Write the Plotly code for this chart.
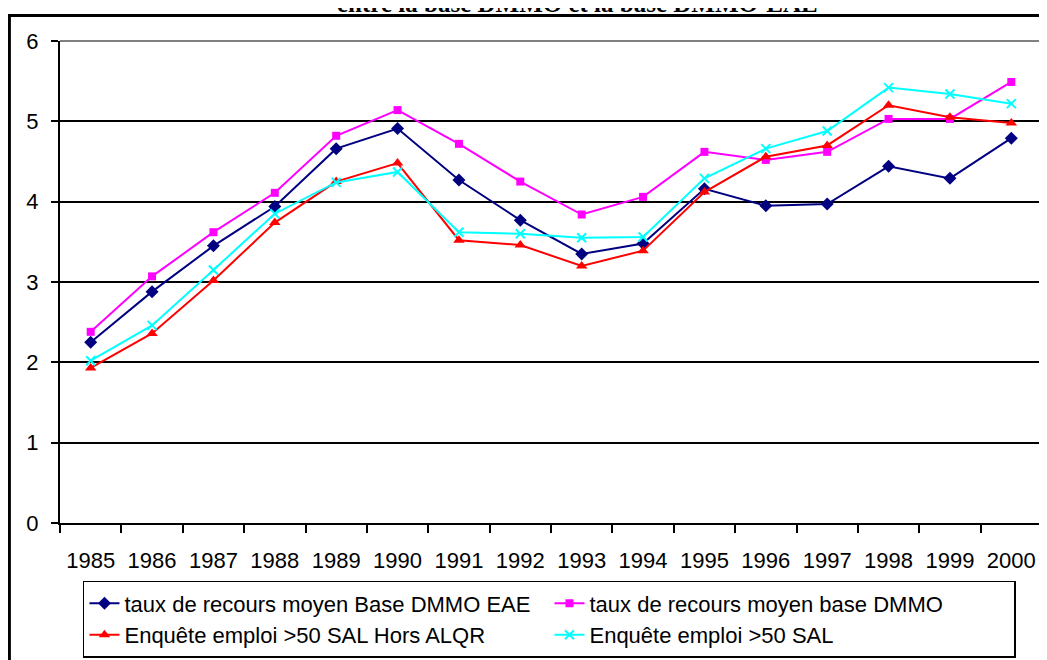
import plotly.graph_objects as go

# Years on the x axis
years = [str(y) for y in range(1985, 2001)]

# Series values
dmmo_eae = [2.25, 2.88, 3.45, 3.94, 4.66, 4.91, 4.27, 3.77, 3.35, 3.48, 4.16, 3.95, 3.97, 4.44, 4.29, 4.79]
dmmo = [2.38, 3.07, 3.62, 4.11, 4.82, 5.14, 4.72, 4.25, 3.84, 4.06, 4.62, 4.52, 4.62, 5.03, 5.03, 5.49]
ee_hors_alqr = [1.93, 2.36, 3.02, 3.74, 4.25, 4.48, 3.52, 3.46, 3.20, 3.39, 4.12, 4.56, 4.70, 5.20, 5.05, 4.98]
ee_50sal = [2.02, 2.46, 3.15, 3.85, 4.24, 4.37, 3.62, 3.60, 3.55, 3.56, 4.29, 4.66, 4.88, 5.42, 5.34, 5.22]

series = [
    ("taux de recours moyen Base DMMO EAE", dmmo_eae, "#000080", "diamond", 10),
    ("taux de recours moyen base DMMO", dmmo, "#FF00FF", "square", 8),
    ("Enquête emploi >50 SAL Hors ALQR", ee_hors_alqr, "#FF0000", "triangle-up", 10),
    ("Enquête emploi >50 SAL", ee_50sal, "#00FFFF", "x-thin", 9),
]

fig = go.Figure()
for name, vals, color, sym, size in series:
    fig.add_trace(go.Scatter(
        x=years, y=vals, name=name, mode="lines+markers",
        line=dict(color=color, width=2),
        marker=dict(symbol=sym, size=size, color=color,
                    line=dict(color=color, width=2 if sym == "x-thin" else 0)),
    ))

font = "Arial, Liberation Sans, sans-serif"

# the page body adds an 8px offset, so margins are shifted to compensate
fig.update_layout(
    width=1047, height=660,
    margin=dict(l=52, r=13, t=33, b=145, autoexpand=False),
    paper_bgcolor="white", plot_bgcolor="white",
    font=dict(family=font, size=22, color="black"),
    showlegend=True,
    legend=dict(
        orientation="h", x=0.0234, xanchor="left", y=-0.12, yanchor="top",
        bordercolor="black", borderwidth=1.5, entrywidth=420,
        itemwidth=30, font=dict(size=22), tracegroupgap=0,
    ),
)

fig.update_xaxes(
    type="category", range=[-0.5, 15.5], showgrid=False, automargin=False,
    showline=True, linecolor="black", linewidth=2,
    ticks="outside", tickson="boundaries", ticklen=8, tickcolor="black", tickwidth=2,
    ticklabelstandoff=17,
)
fig.update_yaxes(
    range=[0, 6], dtick=1, showgrid=True, gridcolor="black", gridwidth=1.6,
    zeroline=False, showline=True, linecolor="black", linewidth=2, automargin=False,
    ticks="outside", ticklen=7, tickcolor="black", tickwidth=2,
    ticklabelstandoff=8,
)

# grey top/right border of the plot area
fig.add_shape(type="path", path="M 0,1 L 1,1 L 1,0", xref="paper", yref="paper",
              line=dict(color="#808080", width=2), layer="above")
# outer black frame (partly outside the picture): left bar and top bar
fig.add_shape(type="rect", xref="paper", yref="paper",
              x0=-0.053, x1=-0.050, y0=-0.5, y1=1.056,
              fillcolor="black", line=dict(width=0), layer="above")
fig.add_shape(type="rect", xref="paper", yref="paper",
              x0=-0.053, x1=1.05, y0=1.050, y1=1.056,
              fillcolor="black", line=dict(width=0), layer="above")

# title, cut off at the top of the picture
fig.add_annotation(
    text="<b>entre la base DMMO et la base DMMO-EAE</b>",
    xref="paper", yref="paper", x=0.527, y=1.046, xanchor="center", yanchor="bottom",
    showarrow=False, font=dict(family="Times New Roman, Liberation Serif, serif", size=25),
)

fig.write_html("out.html")
